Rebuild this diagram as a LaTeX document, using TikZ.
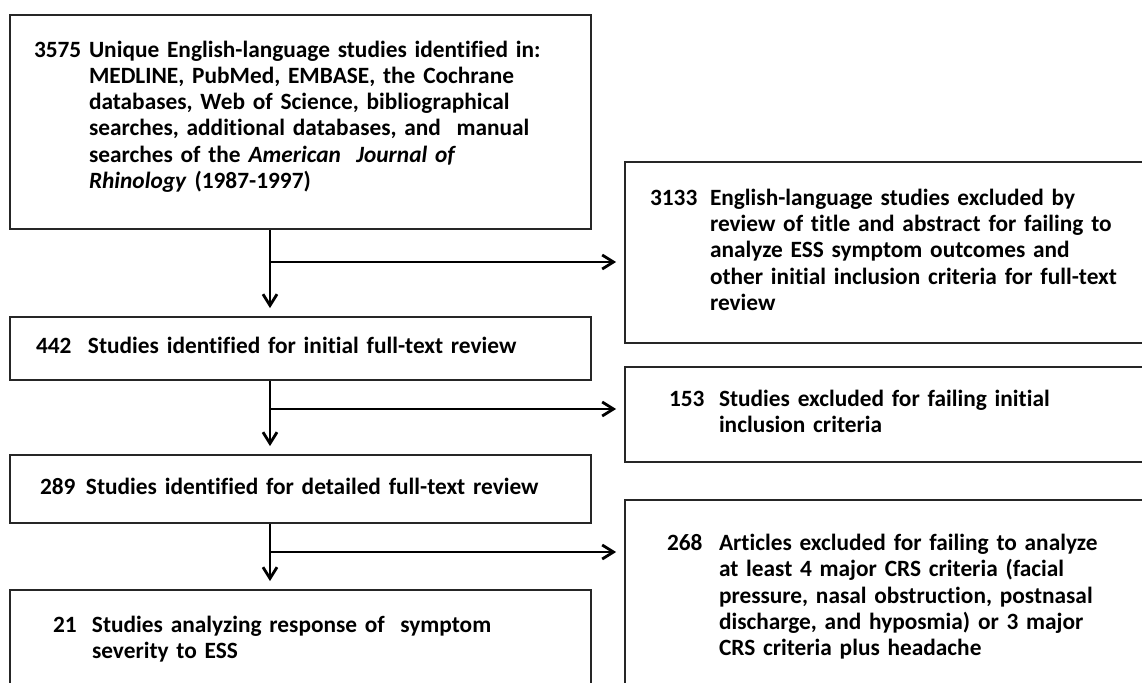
\documentclass[tikz,border=0pt]{standalone}
\usepackage{fontspec}
\setmainfont{Carlito}[Ligatures=NoCommon]
\usepackage{tikz}
\usetikzlibrary{positioning,calc,arrows.meta}

% number, then the text as a hanging block
\newcommand{\entry}[3]{\makebox[#1][l]{#2}\begin{tabular}[t]{@{}l@{}}#3\end{tabular}}

\tikzset{
  box/.style={draw=black!85, line width=1.3pt, align=left, inner ysep=2pt,
    font=\fontsize{16.6}{18.7}\selectfont\bfseries},
  flow/.style={line width=2pt, -{Straight Barb[length=8pt,width=10pt]}}
}

\begin{document}
\begin{tikzpicture}
    \clip (0,0) rectangle (28.55, 17.05);
    \fill [white] (0,0) rectangle (28.55, 17.05);

    % main column
    \node [box, minimum width=14.525cm, minimum height=5.35cm, inner xsep=0.6cm, text width=13.325cm] (found) at (7.5125, 14.0)
        {\entry{1.375cm}{3575}{Unique English-language studies identified in:\\
         MEDLINE, PubMed, EMBASE, the Cochrane\\
         databases, Web of Science, bibliographical\\
         searches, additional databases, and\ \ manual\\
         searches of the \textit{American\ \ Journal of}\\
         \textit{Rhinology} (1987-1997)\rule[-0.42cm]{0pt}{0.1pt}}};
    \node [box, minimum width=14.525cm, minimum height=1.575cm, inner xsep=0.65cm, text width=13.225cm] (full) at (7.5125, 8.3375)
        {\entry{1.3cm}{442}{Studies identified for initial full-text review}};
    \node [box, minimum width=14.525cm, minimum height=1.7cm, inner xsep=0.75cm, text width=13.025cm] (detail) at (7.5125, 4.825)
        {\entry{1.15cm}{289}{Studies identified for detailed full-text review}};
    \node [box, minimum width=14.525cm, minimum height=2.5cm, inner xsep=1.075cm, text width=12.375cm] (final) at (7.5125, 1.05)
        {\entry{0.975cm}{21}{Studies analyzing response of\ \ symptom\\ severity to ESS}};

    % excluded
    \node [box, minimum width=13.875cm, minimum height=4.525cm, inner xsep=0.625cm, text width=12.625cm] (excl1) at (22.5625, 10.7375)
        {\entry{1.5cm}{3133}{English-language studies excluded by\\
         review of title and abstract for failing to\\
         analyze ESS symptom outcomes and\\
         other initial inclusion criteria for full-text\\
         review}};
    \node [box, minimum width=13.875cm, minimum height=2.375cm, inner xsep=1.1cm, text width=11.675cm] (excl2) at (22.5625, 6.6875)
        {\entry{1.25cm}{153}{Studies excluded for failing initial\\ inclusion criteria}};
    \node [box, minimum width=13.875cm, minimum height=4.9cm, inner xsep=1.05cm, text width=11.775cm] (excl3) at (22.5625, 2.1)
        {\entry{1.3cm}{268}{Articles excluded for failing to analyze\\
         at least 4 major CRS criteria (facial\\
         pressure, nasal obstruction, postnasal\\
         discharge, and hyposmia) or 3 major\\
         CRS criteria plus headache}};

    % branch points
    \coordinate (j1) at (6.75, 10.5);
    \coordinate (j2) at (6.75, 6.825);
    \coordinate (j3) at (6.75, 3.25);

    \draw [flow, shorten >=0.2cm] (found.south -| j1) -- (full.north -| j1);
    \draw [flow, shorten >=0.2cm] (full.south -| j2) -- (detail.north -| j2);
    \draw [flow, shorten >=0.2cm] (detail.south -| j3) -- (final.north -| j3);
    \draw [flow, shorten >=0.2cm] (j1) -- (j1 -| excl1.west);
    \draw [flow, shorten >=0.2cm] (j2) -- (j2 -| excl2.west);
    \draw [flow, shorten >=0.2cm] (j3) -- (j3 -| excl3.west);
\end{tikzpicture}
\end{document}
